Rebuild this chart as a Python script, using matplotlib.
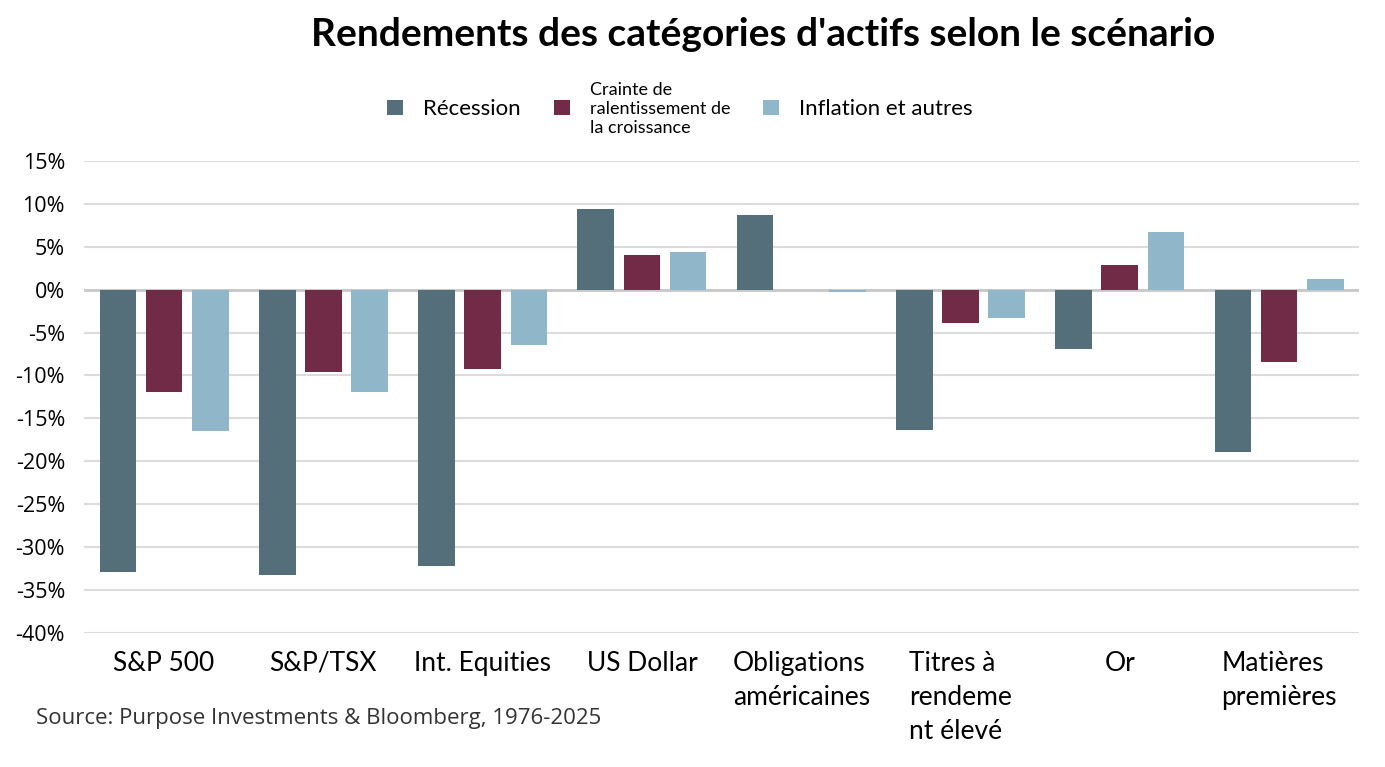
import numpy as np
import matplotlib.pyplot as plt
from matplotlib.ticker import FuncFormatter

# data (returns in %)
categories = ["S&P 500", "S&P/TSX", "Int. Equities", "US Dollar",
              "Obligations\naméricaines", "Titres à\nrendeme\nnt élevé",
              "Or", "Matières\npremières"]
recession = [-32.9, -33.3, -32.2, 9.4, 8.7, -16.3, -6.9, -18.9]
ralentissement = [-11.9, -9.6, -9.2, 4.1, 0.0, -3.9, 2.9, -8.4]
inflation = [-16.5, -11.9, -6.4, 4.4, -0.3, -3.3, 6.7, 1.2]
series_names = ["Récession", "Crainte de\nralentissement de\nla croissance",
                "Inflation et autres"]
colors = ["#546e7a", "#722b47", "#8fb7c9"]

plt.rcParams['font.family'] = ['Lato', 'DejaVu Sans']

fig = plt.figure(figsize=(13.85, 7.67), dpi=100)
ax = fig.add_axes([0.061, 0.175, 0.92, 0.615])

x = np.arange(len(categories))
width = 0.23
offset = 0.29
for i, vals in enumerate([recession, ralentissement, inflation]):
    ax.bar(x + (i - 1) * offset, vals, width, color=colors[i],
           label=series_names[i], zorder=3)

ax.set_xlim(-0.5, len(categories) - 0.5)
ax.set_ylim(-40, 15)
ax.set_yticks(np.arange(-40, 16, 5))
ax.yaxis.set_major_formatter(FuncFormatter(lambda v, p: f"{v:.0f}%"))
ax.grid(axis='y', color='#dcdcdc', linewidth=1.5, zorder=0)
ax.axhline(0, color='#c8c8c8', linewidth=2, zorder=2)
for s in ax.spines.values():
    s.set_visible(False)
ax.tick_params(axis='y', length=0, pad=14)
ax.tick_params(axis='x', length=0, labelsize=19, pad=13)
for lab in ax.get_yticklabels():
    lab.set_fontfamily(['Open Sans', 'DejaVu Sans'])
    lab.set_fontsize(15.5)
ax.set_xticks(x)
ax.set_xticklabels(categories, multialignment='left', va='top',
                   linespacing=1.45)

fig.text(0.551, 0.955, "Rendements des catégories d'actifs selon le scénario",
         ha='center', va='center', fontsize=28, fontweight='bold')

leg = fig.legend(loc='center', bbox_to_anchor=(0.491, 0.858), ncol=3,
                 frameon=False, fontsize=16, handlelength=0.7,
                 handleheight=0.7, handletextpad=0.9, columnspacing=1.5)
leg.get_texts()[1].set_fontsize(13)

fig.text(0.026, 0.063, "Source: Purpose Investments & Bloomberg, 1976-2025",
         fontsize=16, color='#333333', va='center',
         family=['Open Sans', 'DejaVu Sans'])

fig.savefig("out.png", dpi=100)
